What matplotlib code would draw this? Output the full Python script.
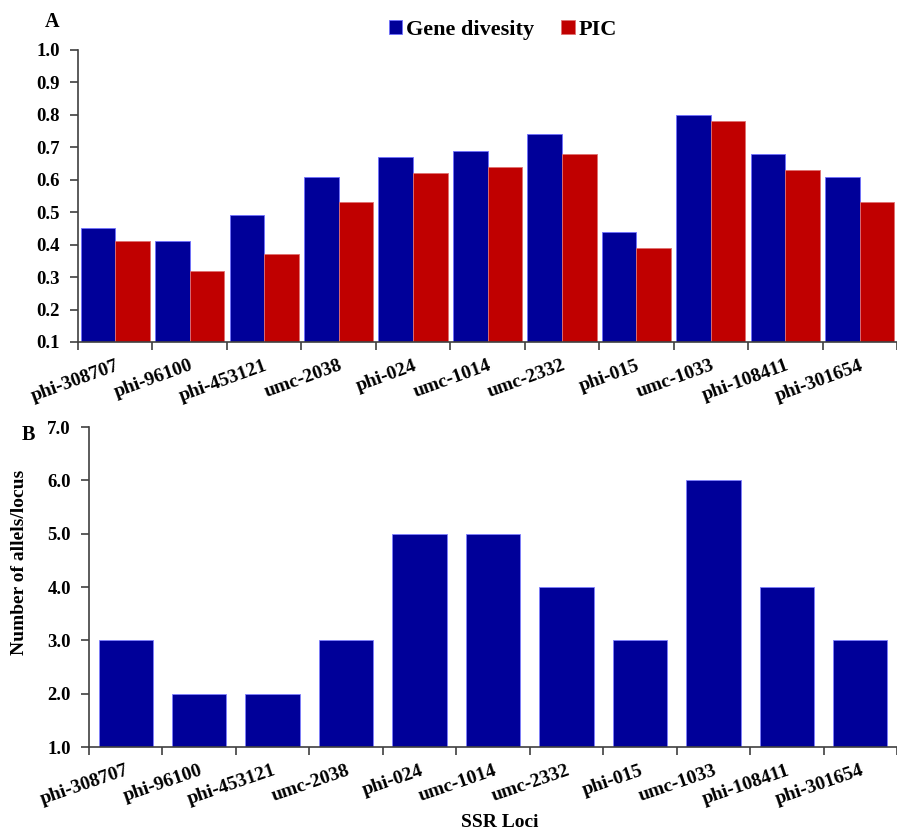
import matplotlib
matplotlib.use("Agg")
import matplotlib.pyplot as plt
import numpy as np

loci = ["phi-308707", "phi-96100", "phi-453121", "umc-2038", "phi-024", "umc-1014",
        "umc-2332", "phi-015", "umc-1033", "phi-108411", "phi-301654"]
gene_diversity = [0.45, 0.41, 0.49, 0.61, 0.67, 0.69, 0.74, 0.44, 0.80, 0.68, 0.61]
pic = [0.41, 0.32, 0.37, 0.53, 0.62, 0.64, 0.68, 0.39, 0.78, 0.63, 0.53]
alleles = [3, 2, 2, 3, 5, 5, 4, 3, 6, 4, 3]
top_yticks = [0.1, 0.2, 0.3, 0.4, 0.5, 0.6, 0.7, 0.8, 0.9, 1.0]
bot_yticks = [1.0, 2.0, 3.0, 4.0, 5.0, 6.0, 7.0]

plt.rcParams['font.family'] = ['Liberation Serif', 'DejaVu Serif']
plt.rcParams['font.weight'] = 'bold'

BLUE = "#000099"
RED = "#C00000"
SPINE = "#404040"
FS = 14

fig = plt.figure(figsize=(8.97, 8.32), dpi=100)
W, H = 897, 832


def style(ax, rot):
    for s in ["top", "right"]:
        ax.spines[s].set_visible(False)
    for s in ["left", "bottom"]:
        ax.spines[s].set_color(SPINE)
        ax.spines[s].set_linewidth(1.2)
    ax.tick_params(axis='both', which='major', direction='out', length=6, width=1.2, color=SPINE)
    ax.tick_params(axis='y', labelsize=13.5, pad=7)
    ax.set_xticks(np.arange(len(loci) + 1) - 0.5)
    ax.set_xticklabels([])
    ax.set_xticks(x, minor=True)
    ax.set_xticklabels(loci, minor=True, rotation=rot, ha='right', rotation_mode='anchor',
                       fontsize=FS, fontweight='bold')
    ax.tick_params(axis='x', which='minor', length=0, pad=11)


x = np.arange(len(loci))

# Top panel
ax1 = fig.add_axes([78 / W, 1 - 342 / H, 1 - 78 / W, (342 - 50) / H])
bw = 0.465
ax1.bar(x - bw / 2, [v - 0.1 for v in gene_diversity], bw, bottom=0.1, color=BLUE,
        edgecolor="#7070ff", linewidth=0.6, label="Gene divesity")
ax1.bar(x + bw / 2, [v - 0.1 for v in pic], bw, bottom=0.1, color=RED,
        edgecolor="#e07070", linewidth=0.6, label="PIC")
ax1.set_ylim(0.1, 1.0)
ax1.set_yticks(top_yticks)
ax1.set_yticklabels([f"{t:.1f}" for t in top_yticks])
ax1.set_xlim(-0.5, (897 - 78) / 75.3 - 0.5)
style(ax1, 20)
fig.legend(*ax1.get_legend_handles_labels(), loc='center', bbox_to_anchor=(503 / W, 1 - 30 / H),
           ncol=2, frameon=False, prop={'size': 16, 'weight': 'bold'},
           handlelength=0.6, handleheight=0.6, handletextpad=0.2, columnspacing=1.2,
           borderpad=0, borderaxespad=0)
fig.text(52 / W, 1 - 22 / H, "A", fontsize=14.5, fontweight='bold', ha='center', va='center')

# Bottom panel
ax2 = fig.add_axes([89 / W, 1 - 747 / H, 1 - 89 / W, (747 - 427) / H])
ax2.bar(x, [v - 1.0 for v in alleles], 0.74, bottom=1.0, color=BLUE,
        edgecolor="#8080ff", linewidth=0.6)
ax2.set_ylim(1.0, 7.0)
ax2.set_yticks(bot_yticks)
ax2.set_yticklabels([f"{t:.1f}" for t in bot_yticks])
ax2.set_xlim(-0.5, (897 - 89) / 74.5 - 0.5)
style(ax2, 19)
ax2.set_ylabel("Number of allels/locus", fontsize=FS, fontweight='bold')
ax2.yaxis.set_label_coords(-(89 - 28) / (W - 89), (747 - 562) / (747 - 427))
ax2.set_xlabel("SSR Loci", fontsize=FS, fontweight='bold')
ax2.xaxis.set_label_coords((500 - 89) / (W - 89), -(814 - 747) / (747 - 427))
fig.text(28 / W, 1 - 435 / H, "B", fontsize=14.5, fontweight='bold', ha='center', va='center')

fig.savefig("out.png", dpi=100)
